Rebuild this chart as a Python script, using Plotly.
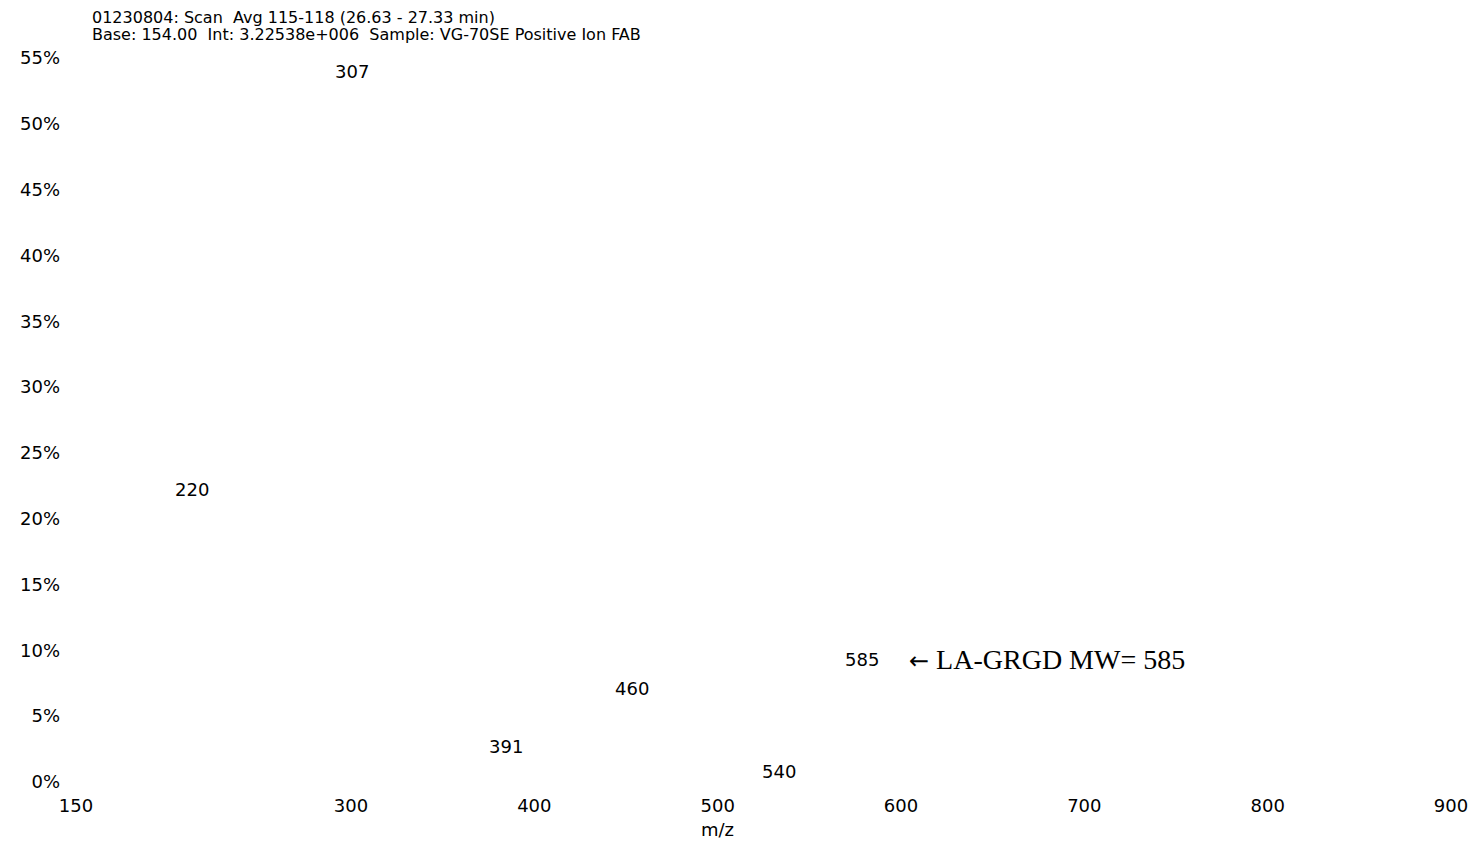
import plotly.graph_objects as go

# Data
peak_mz = [220, 307, 391, 460, 540, 585]
peak_pct = [21.5, 53.3, 2.0, 6.4, 0.1, 8.6]
peak_labels = ["220", "307", "391", "460", "540", "585"]

x_ticks = [150, 300, 400, 500, 600, 700, 800, 900]
y_ticks = [0, 5, 10, 15, 20, 25, 30, 35, 40, 45, 50, 55]
y_tick_text = [f"{v}%" for v in y_ticks]

title_lines = [
    "01230804: Scan  Avg 115-118 (26.63 - 27.33 min)",
    "Base: 154.00  Int: 3.22538e+006  Sample: VG-70SE Positive Ion FAB",
]
note_arrow = "\u2190"
note_text = "LA-GRGD MW= 585"
note_mz = 585

SANS = "DejaVu Sans"
SERIF = "Liberation Serif"
FS = 18

fig = go.Figure()
fig.add_trace(go.Scatter(
    x=peak_mz, y=peak_pct, mode="markers",
    marker=dict(size=1, opacity=0), hoverinfo="x+y", showlegend=False,
))

annotations = []
for mz, pct, lab in zip(peak_mz, peak_pct, peak_labels):
    annotations.append(dict(
        x=mz, y=pct, xref="x", yref="y", text=lab, showarrow=False,
        xanchor="center", yanchor="middle", xshift=-12, yshift=9,
        font=dict(family=SANS, size=FS, color="black"),
    ))

note_y = peak_pct[peak_mz.index(note_mz)]
annotations.append(dict(
    x=note_mz, y=note_y, xref="x", yref="y",
    text=f"<span style='font-family:DejaVu Sans;font-size:24px'>{note_arrow}</span> {note_text}",
    showarrow=False,
    xanchor="left", yanchor="middle", xshift=33, yshift=9,
    font=dict(family=SERIF, size=28, color="black"),
))

for i, line in enumerate(title_lines):
    annotations.append(dict(
        x=0, y=1, xref="paper", yref="paper", text=line, showarrow=False,
        xanchor="left", yanchor="middle", xshift=14, yshift=[41, 24][i],
        font=dict(family=SANS, size=16, color="black"),
    ))

annotations.append(dict(
    x=500, y=0, xref="x", yref="paper", text="m/z", showarrow=False,
    xanchor="center", yanchor="middle", yshift=-47,
    font=dict(family=SANS, size=FS, color="black"),
))

# the page body has an 8px margin, so the figure is sized to fit the window
fig.update_layout(
    width=1472, height=833,
    margin=dict(l=67, r=25, t=50, b=59),
    paper_bgcolor="white", plot_bgcolor="white",
    showlegend=False,
    annotations=annotations,
    xaxis=dict(
        range=[150, 900], tickvals=x_ticks, ticktext=[str(v) for v in x_ticks],
        showgrid=False, zeroline=False, showline=False, ticks="",
        ticklabelstandoff=11,
        tickfont=dict(family=SANS, size=FS, color="black"),
    ),
    yaxis=dict(
        range=[0, 55], tickvals=y_ticks, ticktext=y_tick_text,
        showgrid=False, zeroline=False, showline=False, ticks="",
        ticklabelstandoff=15,
        tickfont=dict(family=SANS, size=FS, color="black"),
    ),
)

fig.write_html("out.html")
